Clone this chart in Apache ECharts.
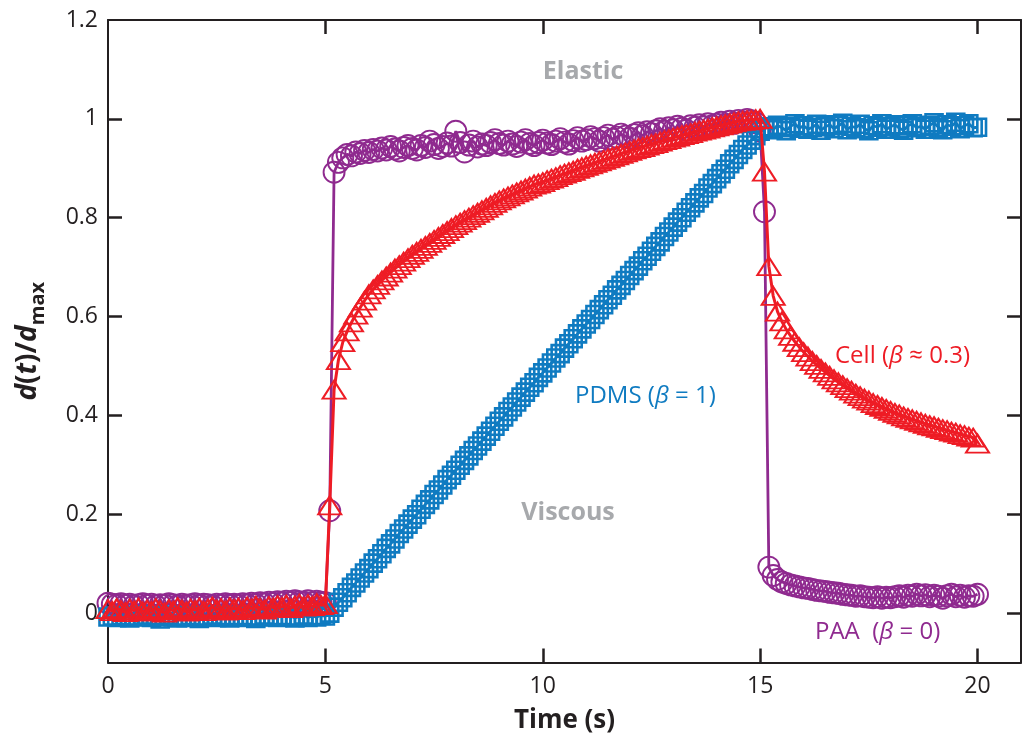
<!DOCTYPE html>
<html>
<head>
<meta charset="utf-8">
<script src="https://cdn.jsdelivr.net/npm/echarts@6/dist/echarts.min.js"></script>
<style>html,body{margin:0;padding:0;background:#fff}#c{width:1023px;height:740px}</style>
</head>
<body>
<div id="c"></div>
<script>
// time samples (s)
const time = [
0.0,0.1,0.2,0.3,0.4,0.5,0.6,0.7,0.8,0.9,
1.0,1.1,1.2,1.3,1.4,1.5,1.6,1.7,1.8,1.9,
2.0,2.1,2.2,2.3,2.4,2.5,2.6,2.7,2.8,2.9,
3.0,3.1,3.2,3.3,3.4,3.5,3.6,3.7,3.8,3.9,
4.0,4.1,4.2,4.3,4.4,4.5,4.6,4.7,4.8,4.9,
5.0,5.1,5.2,5.3,5.4,5.5,5.6,5.7,5.8,5.9,
6.0,6.1,6.2,6.3,6.4,6.5,6.6,6.7,6.8,6.9,
7.0,7.1,7.2,7.3,7.4,7.5,7.6,7.7,7.8,7.9,
8.0,8.1,8.2,8.3,8.4,8.5,8.6,8.7,8.8,8.9,
9.0,9.1,9.2,9.3,9.4,9.5,9.6,9.7,9.8,9.9,
10.0,10.1,10.2,10.3,10.4,10.5,10.6,10.7,10.8,10.9,
11.0,11.1,11.2,11.3,11.4,11.5,11.6,11.7,11.8,11.9,
12.0,12.1,12.2,12.3,12.4,12.5,12.6,12.7,12.8,12.9,
13.0,13.1,13.2,13.3,13.4,13.5,13.6,13.7,13.8,13.9,
14.0,14.1,14.2,14.3,14.4,14.5,14.6,14.7,14.8,14.9,
15.0,15.1,15.2,15.3,15.4,15.5,15.6,15.7,15.8,15.9,
16.0,16.1,16.2,16.3,16.4,16.5,16.6,16.7,16.8,16.9,
17.0,17.1,17.2,17.3,17.4,17.5,17.6,17.7,17.8,17.9,
18.0,18.1,18.2,18.3,18.4,18.5,18.6,18.7,18.8,18.9,
19.0,19.1,19.2,19.3,19.4,19.5,19.6,19.7,19.8,19.9,
20.0
];

// PAA (beta = 0), circles
const paa = [
0.020,0.018,0.017,0.019,0.016,0.018,0.015,0.017,0.019,0.016,
0.018,0.015,0.017,0.016,0.019,0.017,0.015,0.018,0.016,0.017,
0.019,0.016,0.018,0.017,0.015,0.018,0.016,0.019,0.017,0.018,
0.016,0.019,0.017,0.020,0.018,0.021,0.019,0.022,0.020,0.023,
0.021,0.024,0.022,0.025,0.023,0.022,0.025,0.021,0.024,0.022,
0.021,0.207,0.892,0.912,0.921,0.928,0.925,0.933,0.930,0.936,
0.932,0.938,0.935,0.941,0.937,0.944,0.939,0.935,0.942,0.946,
0.940,0.937,0.946,0.942,0.955,0.948,0.940,0.944,0.951,0.945,
0.975,0.952,0.933,0.947,0.955,0.943,0.949,0.946,0.952,0.958,
0.950,0.947,0.955,0.949,0.944,0.953,0.958,0.950,0.946,0.952,
0.957,0.951,0.948,0.955,0.960,0.953,0.949,0.956,0.962,0.955,
0.958,0.964,0.960,0.955,0.962,0.967,0.959,0.963,0.969,0.965,
0.961,0.968,0.972,0.966,0.974,0.970,0.976,0.980,0.975,0.982,
0.978,0.985,0.981,0.977,0.986,0.983,0.988,0.984,0.990,0.986,
0.989,0.993,0.988,0.995,0.991,0.997,0.994,0.999,0.996,0.992,
0.975,0.812,0.093,0.076,0.068,0.063,0.060,0.057,0.055,0.053,
0.051,0.050,0.048,0.046,0.045,0.044,0.042,0.041,0.040,0.038,
0.037,0.036,0.034,0.035,0.033,0.032,0.031,0.033,0.030,0.032,
0.031,0.033,0.035,0.032,0.036,0.034,0.038,0.035,0.037,0.033,
0.036,0.034,0.030,0.035,0.038,0.033,0.036,0.032,0.035,0.034,
0.038
];

// PDMS (beta = 1), squares
const pdms = [
-0.008,-0.006,-0.009,-0.005,-0.007,-0.010,-0.006,-0.008,-0.004,-0.007,
-0.009,-0.005,-0.012,-0.007,-0.004,-0.008,-0.010,-0.006,-0.009,-0.005,
-0.007,-0.011,-0.006,-0.008,-0.004,-0.009,-0.007,-0.005,-0.010,-0.006,
-0.008,-0.005,-0.009,-0.006,-0.011,-0.007,-0.004,-0.008,-0.006,-0.009,
-0.005,-0.008,-0.006,-0.010,-0.007,-0.004,-0.009,-0.006,-0.008,-0.005,
-0.006,0.000,0.012,0.022,0.031,0.041,0.052,0.061,0.071,0.081,
0.090,0.101,0.110,0.120,0.131,0.140,0.150,0.161,0.170,0.180,
0.190,0.199,0.210,0.220,0.229,0.240,0.249,0.259,0.270,0.279,
0.289,0.299,0.309,0.318,0.329,0.338,0.348,0.358,0.368,0.378,
0.388,0.397,0.408,0.417,0.427,0.437,0.447,0.457,0.466,0.477,
0.486,0.496,0.506,0.516,0.525,0.536,0.545,0.555,0.565,0.575,
0.585,0.594,0.604,0.614,0.624,0.634,0.643,0.654,0.663,0.673,
0.683,0.693,0.702,0.713,0.722,0.732,0.742,0.751,0.762,0.771,
0.781,0.791,0.800,0.811,0.820,0.830,0.840,0.849,0.860,0.869,
0.879,0.889,0.898,0.909,0.918,0.928,0.938,0.947,0.957,0.966,
0.975,0.980,0.984,0.978,0.987,0.982,0.976,0.985,0.990,0.981,
0.986,0.979,0.983,0.989,0.977,0.984,0.988,0.980,0.986,0.991,
0.978,0.985,0.982,0.989,0.980,0.976,0.986,0.983,0.990,0.979,
0.984,0.988,0.981,0.977,0.986,0.990,0.982,0.985,0.979,0.987,
0.992,0.983,0.978,0.988,0.985,0.993,0.980,0.986,0.990,0.982,
0.983
];

// Cell (beta ~ 0.3), triangles
const cell = [
0.008,0.004,0.010,0.006,0.002,0.009,0.005,0.011,0.003,0.007,
0.004,0.010,0.006,0.001,0.008,0.005,0.012,0.007,0.003,0.009,
0.006,0.011,0.004,0.009,0.013,0.007,0.010,0.005,0.012,0.008,
0.011,0.006,0.013,0.009,0.015,0.010,0.007,0.014,0.011,0.016,
0.012,0.017,0.010,0.015,0.019,0.013,0.018,0.014,0.020,0.016,
0.018,0.218,0.452,0.512,0.548,0.570,0.588,0.604,0.618,0.632,
0.645,0.655,0.664,0.673,0.681,0.689,0.697,0.704,0.711,0.718,
0.725,0.731,0.737,0.743,0.749,0.755,0.761,0.767,0.773,0.779,
0.785,0.790,0.795,0.800,0.805,0.810,0.815,0.820,0.825,0.830,
0.835,0.839,0.843,0.847,0.851,0.855,0.859,0.863,0.867,0.869,
0.872,0.876,0.879,0.882,0.886,0.889,0.892,0.895,0.899,0.902,
0.905,0.908,0.911,0.914,0.917,0.920,0.923,0.926,0.929,0.932,
0.935,0.938,0.941,0.943,0.946,0.949,0.951,0.954,0.957,0.959,
0.962,0.964,0.967,0.969,0.971,0.974,0.976,0.978,0.980,0.983,
0.985,0.987,0.989,0.991,0.993,0.995,0.996,0.997,0.998,0.999,
1.000,0.893,0.702,0.642,0.610,0.590,0.574,0.561,0.549,0.538,
0.528,0.519,0.510,0.502,0.494,0.487,0.480,0.473,0.467,0.461,
0.455,0.450,0.444,0.439,0.434,0.430,0.425,0.421,0.417,0.413,
0.409,0.405,0.402,0.398,0.395,0.392,0.389,0.386,0.383,0.380,
0.378,0.375,0.372,0.370,0.367,0.365,0.362,0.360,0.357,0.355,
0.343
];

const xTicks = [0, 5, 10, 15, 20];
const yTicks = [0, 0.2, 0.4, 0.6, 0.8, 1, 1.2];

const PURPLE = '#8F2A8F';
const RED = '#EE1C25';
const BLUE = '#0F7BC1';
const GRAY = '#A7A9AC';
const INK = '#231F20';
const FONT = '"Open Sans", "Noto Sans", sans-serif';

function pairs(ys) { return time.map((t, i) => [t, ys[i]]); }

const chart = echarts.init(document.getElementById('c'), null, {renderer: 'canvas'});

const axisLine = {show: true, onZero: false, lineStyle: {color: INK, width: 2}};
const tickStyle = {color: INK, width: 2.5};

function label(text, x, y, color, size) {
  return {type: 'text', x: x, y: y, z: 10, style: {
    text: text, fill: color, fontSize: size, fontFamily: FONT,
    align: 'left', verticalAlign: 'middle', textAlign: 'left', textVerticalAlign: 'middle',
    rich: {
      n: {fill: color, color: color, fontSize: size, fontFamily: FONT},
      b: {fill: color, color: color, fontSize: size, fontStyle: 'italic', fontFamily: FONT}
    }
  }};
}

chart.setOption({
  animation: false,
  backgroundColor: '#fff',
  grid: {left: 108, right: 2, top: 20, bottom: 77.5, containLabel: false},
  xAxis: [{
    type: 'value', min: 0, max: 21, position: 'bottom',
    axisLine: axisLine,
    axisTick: {show: true, inside: true, length: 14, lineStyle: tickStyle, customValues: xTicks.slice(1)},
    axisLabel: {show: true, customValues: xTicks, fontSize: 23, color: INK, margin: 12, fontFamily: FONT},
    splitLine: {show: false},
    name: 'Time (s)', nameLocation: 'middle', nameGap: 45,
    nameTextStyle: {fontSize: 26, fontWeight: 'bold', color: INK, fontFamily: FONT}
  }, {
    type: 'value', min: 0, max: 21, position: 'top',
    axisLine: axisLine,
    axisTick: {show: true, inside: true, length: 14, lineStyle: tickStyle, customValues: xTicks.slice(1)},
    axisLabel: {show: false},
    splitLine: {show: false}
  }],
  yAxis: [{
    type: 'value', min: -0.1, max: 1.2, position: 'left',
    axisLine: axisLine,
    axisTick: {show: true, inside: true, length: 14, lineStyle: tickStyle, customValues: yTicks.slice(0, 6)},
    axisLabel: {show: true, customValues: yTicks, fontSize: 23, color: INK, margin: 10, fontFamily: FONT,
      formatter: v => String(Math.round(v * 10) / 10)},
    splitLine: {show: false},
    name: '{d|d}{p|(}{d|t}{p|)/}{d|d}{s|max}',
    nameLocation: 'middle', nameRotate: 90, nameGap: 60,
    nameTextStyle: {
      color: INK, fontFamily: FONT,
      rich: {
        d: {fontSize: 28, fontWeight: 'bold', fontStyle: 'italic', color: INK, fontFamily: FONT, lineHeight: 40, verticalAlign: 'middle'},
        p: {fontSize: 28, fontWeight: 'bold', color: INK, fontFamily: FONT, lineHeight: 40, verticalAlign: 'middle'},
        s: {fontSize: 20, fontWeight: 'bold', color: INK, fontFamily: FONT, lineHeight: 22, verticalAlign: 'bottom'}
      }
    }
  }, {
    type: 'value', min: -0.1, max: 1.2, position: 'right',
    axisLine: axisLine,
    axisTick: {show: true, inside: true, length: 14, lineStyle: tickStyle, customValues: yTicks.slice(0, 6)},
    axisLabel: {show: false},
    splitLine: {show: false}
  }],
  series: [{
    name: 'PAA', type: 'line', z: 2, data: pairs(paa),
    symbol: 'circle', symbolSize: 21, showAllSymbol: true,
    itemStyle: {color: 'rgba(0,0,0,0)', borderColor: PURPLE, borderWidth: 1.9},
    lineStyle: {color: PURPLE, width: 2.8}
  }, {
    name: 'PDMS', type: 'line', z: 3, data: pairs(pdms),
    symbol: 'rect', symbolSize: 17, showAllSymbol: true,
    itemStyle: {color: 'rgba(0,0,0,0)', borderColor: BLUE, borderWidth: 2.6},
    lineStyle: {color: BLUE, width: 2.8}
  }, {
    name: 'Cell', type: 'line', z: 4, data: pairs(cell),
    symbol: 'triangle', symbolSize: [23, 18], showAllSymbol: true,
    itemStyle: {color: 'rgba(0,0,0,0)', borderColor: RED, borderWidth: 2},
    lineStyle: {color: RED, width: 3}
  }],
  graphic: [
    {type: 'text', x: 583, y: 72, z: 10, style: {text: 'Elastic', fill: GRAY, fontSize: 25, fontWeight: 'bold', fontFamily: FONT, align: 'center', verticalAlign: 'middle', textAlign: 'center', textVerticalAlign: 'middle'}},
    {type: 'text', x: 568, y: 513, z: 10, style: {text: 'Viscous', fill: GRAY, fontSize: 25, fontWeight: 'bold', fontFamily: FONT, align: 'center', verticalAlign: 'middle', textAlign: 'center', textVerticalAlign: 'middle'}},
    label('{n|PDMS (}{b|β}{n| = 1)}', 575, 396, BLUE, 24),
    label('{n|Cell (}{b|β}{n| ≈ 0.3)}', 835, 356, RED, 24),
    label('{n|PAA  (}{b|β}{n| = 0)}', 815, 632, PURPLE, 24)
  ]
});
</script>
</body>
</html>
